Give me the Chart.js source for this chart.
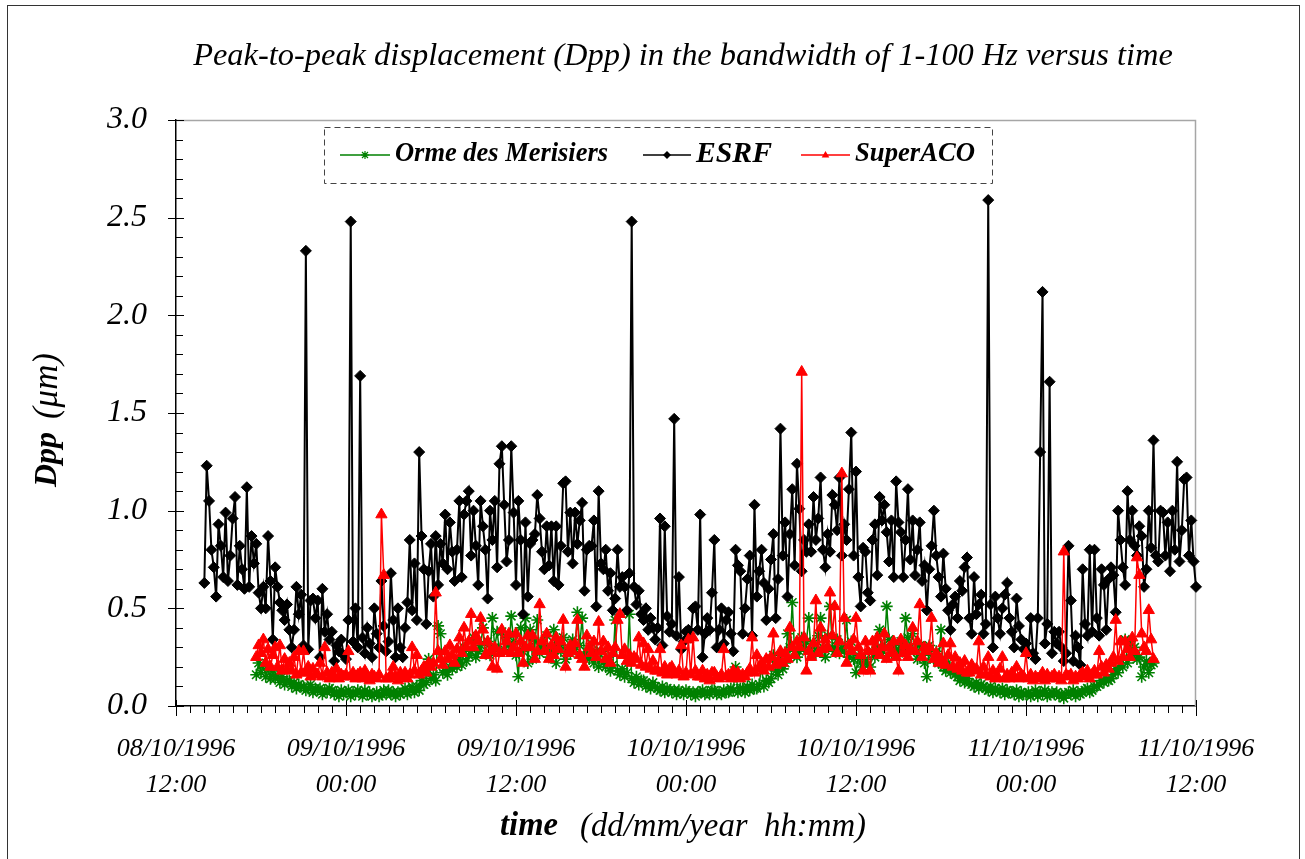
<!DOCTYPE html>
<html><head><meta charset="utf-8">
<script src="https://cdn.jsdelivr.net/npm/chart.js@4.4.1/dist/chart.umd.min.js"></script>
<style>html,body{margin:0;padding:0;background:#fff;}canvas{display:block;}</style>
</head><body>
<canvas id="c" width="1305" height="859"></canvas>
<script>
// ---- tick labels / names ----
const xTickLabels = [['08/10/1996','12:00'],['09/10/1996','00:00'],['09/10/1996','12:00'],['10/10/1996','00:00'],['10/10/1996','12:00'],['11/10/1996','00:00'],['11/10/1996','12:00']];
const yTickLabels = ['0.0','0.5','1.0','1.5','2.0','2.5','3.0'];
const seriesNames = ['Orme des Merisiers','ESRF','SuperACO'];
const chartTitle = 'Peak-to-peak displacement (Dpp) in the bandwidth of 1-100 Hz versus time';

// ---- ESRF: one sample every 10 min, x in hours after 08/10/1996 12:00 ----
const esrfStartHour = 2;
const esrfStepHour = 1 / 6;
const esrf = [
0.63,1.23,1.05,0.80,0.71,0.56, 0.93,0.82,0.66,0.99,0.64,0.77, 0.96,1.07,0.62,0.82,0.70,0.60,
1.12,0.61,0.87,0.73,0.83,0.58, 0.50,0.61,0.50,0.87,0.64,0.34, 0.71,0.61,0.53,0.49,0.44,0.52,
0.39,0.30,0.39,0.61,0.47,0.57, 0.31,2.33,0.29,0.54,0.55,0.45, 0.54,0.25,0.60,0.38,0.47,0.34,
0.38,0.23,0.31,0.28,0.34,0.26, 0.24,0.44,2.48,0.33,0.50,0.30, 1.69,0.35,0.27,0.40,0.32,0.25,
0.50,0.37,0.30,0.64,0.41,0.28, 0.33,0.68,0.44,0.25,0.50,0.30, 0.25,0.40,0.53,0.85,0.49,0.73,
0.44,1.30,0.87,0.70,0.42,0.69, 0.83,0.56,0.87,0.62,0.83,0.73, 0.98,0.70,0.94,0.79,0.64,0.80,
1.05,0.66,0.98,1.05,1.10,0.77, 1.00,0.82,0.62,1.05,0.92,0.80, 0.55,1.00,0.85,1.05,0.71,1.24,
1.33,1.03,0.74,0.85,1.33,0.99, 0.62,1.05,0.85,0.47,0.94,0.56, 0.83,0.85,0.88,1.08,0.96,0.79,
0.70,0.92,0.72,0.92,0.64,0.92, 0.62,0.82,1.14,1.15,0.79,0.99, 0.73,0.99,0.83,0.95,1.04,0.59,
0.80,0.82,0.82,0.95,0.51,1.10, 0.73,0.70,0.80,0.59,0.68,0.49, 0.55,0.80,0.61,0.66,0.61,0.49,
0.68,2.48,0.61,0.52,0.59,0.47, 0.44,0.50,0.39,0.45,0.40,0.34, 0.40,0.96,0.31,0.92,0.46,0.38,
0.42,1.47,0.36,0.66,0.29,0.33, 0.38,0.39,0.35,0.50,0.51,0.39, 0.98,0.25,0.37,0.45,0.39,0.58,
0.85,0.30,0.39,0.50,0.32,0.44, 0.48,0.37,0.28,0.80,0.72,0.69, 0.37,0.50,0.65,0.77,0.36,1.03,
0.56,0.69,0.80,0.63,0.44,0.60, 0.75,0.88,0.45,0.65,1.42,0.77, 0.94,0.56,0.88,1.11,0.72,1.24,
1.01,0.69,0.85,0.79,0.93,0.79, 1.07,0.85,0.96,1.17,0.80,0.71, 0.88,0.79,1.08,1.03,0.90,1.17,
0.77,0.93,0.85,1.11,1.40,0.77, 1.20,0.66,0.51,0.81,0.79,0.58, 0.54,0.85,0.93,0.67,1.07,0.95,
1.03,0.89,0.74,0.95,0.66,1.15, 0.94,0.89,0.66,0.85,1.11,0.75, 0.95,0.67,0.80,0.94,0.64,0.72,
0.49,0.70,0.82,1.00,0.77,0.66, 0.56,0.78,0.60,0.49,0.39,0.52, 0.56,0.45,0.64,0.59,0.71,0.76,
0.45,0.37,0.66,0.47,0.52,0.57, 0.37,0.42,2.59,0.52,0.30,0.56, 0.45,0.37,0.50,0.57,0.63,0.45,
0.38,0.30,0.55,0.41,0.34,0.29, 0.32,0.27,0.45,0.27,0.24,0.45, 1.30,2.12,0.32,0.42,1.66,0.27,
0.38,0.32,0.38,0.30,0.23,0.27, 0.82,0.54,0.23,0.36,0.30,0.21, 0.70,0.42,0.36,0.80,0.38,0.80,
0.45,0.36,0.70,0.62,0.39,0.65, 0.71,0.67,0.48,1.00,0.85,0.71, 0.62,1.10,0.85,1.00,0.82,0.77,
0.92,0.87,0.61,0.70,1.00,0.81, 1.36,0.77,0.74,1.00,0.99,0.77, 0.94,0.69,1.00,0.80,1.25,0.74,
0.90,1.16,1.17,0.77,0.95,0.74, 0.61,0.90,0.50
];

// ---- Orme des Merisiers & SuperACO: one sample every 10 min ----
const siteStartHour = 5 + 4 / 6;
const siteStepHour = 1 / 6;
const orme = [
0.16,0.22,
0.17,0.21,0.15,0.19,0.14,0.18, 0.14,0.16,0.12,0.15,0.11,0.13, 0.13,0.10,0.12,0.09,0.11,0.10,
0.10,0.08,0.09,0.11,0.07,0.09, 0.08,0.09,0.06,0.08,0.07,0.09, 0.08,0.06,0.07,0.05,0.08,0.06,
0.07,0.08,0.05,0.07,0.06,0.08, 0.07,0.05,0.08,0.06,0.07,0.05, 0.06,0.07,0.05,0.06,0.08,0.06,
0.08,0.06,0.07,0.05,0.07,0.06, 0.07,0.09,0.06,0.08,0.10,0.07, 0.10,0.08,0.13,0.11,0.12,0.24,
0.14,0.16,0.13,0.41,0.37,0.17, 0.18,0.16,0.20,0.19,0.22,0.20, 0.24,0.21,0.30,0.23,0.26,0.28,
0.35,0.25,0.28,0.31,0.40,0.27, 0.33,0.26,0.45,0.30,0.38,0.28, 0.38,0.29,0.35,0.31,0.46,0.33,
0.26,0.15,0.40,0.28,0.45,0.22, 0.39,0.24,0.33,0.44,0.27,0.30, 0.30,0.36,0.25,0.28,0.39,0.22,
0.31,0.28,0.35,0.24,0.30,0.27, 0.34,0.29,0.48,0.31,0.45,0.26, 0.26,0.24,0.32,0.22,0.28,0.20,
0.28,0.22,0.20,0.25,0.18,0.21, 0.44,0.18,0.16,0.19,0.15,0.17, 0.47,0.14,0.12,0.15,0.11,0.13,
0.13,0.10,0.11,0.09,0.12,0.10, 0.09,0.08,0.10,0.07,0.09,0.08, 0.07,0.08,0.06,0.08,0.07,0.06,
0.08,0.07,0.06,0.07,0.05,0.07, 0.07,0.08,0.06,0.07,0.06,0.08, 0.08,0.06,0.07,0.06,0.08,0.07,
0.07,0.09,0.08,0.20,0.07,0.09, 0.09,0.07,0.10,0.08,0.11,0.09, 0.09,0.11,0.20,0.10,0.13,0.12,
0.14,0.26,0.18,0.16,0.22,0.19, 0.22,0.37,0.30,0.53,0.28,0.25, 0.28,0.35,0.30,0.33,0.45,0.27,
0.32,0.27,0.36,0.45,0.30,0.25, 0.36,0.51,0.30,0.28,0.34,0.27, 0.30,0.28,0.44,0.25,0.33,0.24,
0.17,0.26,0.22,0.20,0.24,0.21, 0.20,0.28,0.25,0.30,0.39,0.27, 0.30,0.51,0.34,0.27,0.31,0.29,
0.27,0.33,0.29,0.45,0.35,0.30, 0.37,0.29,0.24,0.31,0.26,0.22, 0.15,0.31,0.26,0.24,0.28,0.22,
0.39,0.20,0.18,0.22,0.17,0.19, 0.16,0.15,0.13,0.16,0.12,0.14, 0.12,0.11,0.10,0.12,0.09,0.11,
0.10,0.09,0.08,0.10,0.07,0.09, 0.08,0.07,0.09,0.06,0.08,0.07, 0.07,0.06,0.08,0.05,0.07,0.06,
0.06,0.07,0.05,0.06,0.08,0.05, 0.07,0.06,0.08,0.05,0.06,0.07, 0.06,0.07,0.05,0.06,0.04,0.06,
0.07,0.06,0.08,0.05,0.07,0.06, 0.07,0.08,0.09,0.07,0.08,0.10, 0.10,0.11,0.13,0.12,0.14,0.13,
0.14,0.16,0.19,0.17,0.22,0.20, 0.34,0.22,0.33,0.26,0.30,0.24, 0.25,0.15,0.20,0.23,0.17,0.21,
0.22
];
const superaco = [
0.25,0.31,
0.27,0.34,0.22,0.29,0.20,0.26, 0.30,0.20,0.31,0.18,0.24,0.19, 0.22,0.18,0.25,0.16,0.28,0.17,
0.28,0.17,0.20,0.15,0.19,0.16, 0.16,0.22,0.15,0.30,0.17,0.14, 0.17,0.15,0.19,0.14,0.16,0.15,
0.16,0.28,0.15,0.17,0.14,0.16, 0.17,0.14,0.18,0.15,0.13,0.16, 0.15,0.14,0.16,0.98,0.67,0.14,
0.14,0.16,0.20,0.15,0.13,0.17, 0.15,0.17,0.14,0.16,0.30,0.18, 0.26,0.16,0.18,0.20,0.17,0.22,
0.20,0.22,0.58,0.28,0.24,0.21, 0.28,0.24,0.31,0.26,0.22,0.29, 0.35,0.27,0.40,0.30,0.33,0.47,
0.30,0.36,0.33,0.45,0.39,0.26, 0.33,0.28,0.20,0.30,0.19,0.27, 0.39,0.28,0.33,0.37,0.27,0.30,
0.37,0.27,0.33,0.22,0.30,0.36, 0.30,0.36,0.24,0.28,0.52,0.33, 0.28,0.37,0.24,0.31,0.26,0.35,
0.29,0.33,0.44,0.20,0.27,0.31, 0.28,0.32,0.44,0.26,0.24,0.20, 0.36,0.30,0.27,0.33,0.25,0.43,
0.28,0.33,0.24,0.30,0.22,0.27, 0.30,0.44,0.47,0.26,0.29,0.23, 0.26,0.22,0.25,0.24,0.35,0.21,
0.32,0.20,0.29,0.19,0.23,0.18, 0.18,0.29,0.17,0.20,0.16,0.19, 0.20,0.17,0.16,0.18,0.31,0.15,
0.17,0.34,0.16,0.35,0.18,0.15, 0.15,0.18,0.14,0.16,0.13,0.17, 0.17,0.15,0.14,0.16,0.29,0.15,
0.16,0.14,0.18,0.15,0.17,0.14, 0.16,0.15,0.17,0.19,0.35,0.17, 0.26,0.19,0.22,0.18,0.24,0.20,
0.25,0.37,0.21,0.23,0.28,0.22, 0.27,0.24,0.40,0.30,0.26,0.33, 0.30,1.71,0.35,0.18,0.28,0.25,
0.32,0.54,0.27,0.40,0.29,0.34, 0.30,0.58,0.36,0.51,0.27,0.33, 1.19,0.45,0.22,0.31,0.28,0.34,
0.45,0.30,0.26,0.18,0.33,0.28, 0.18,0.33,0.28,0.35,0.26,0.30, 0.37,0.24,0.30,0.27,0.33,0.25,
0.18,0.34,0.27,0.31,0.25,0.29, 0.40,0.28,0.33,0.52,0.25,0.30, 0.28,0.30,0.45,0.24,0.27,0.22,
0.24,0.32,0.21,0.26,0.32,0.20, 0.25,0.19,0.22,0.18,0.23,0.17, 0.17,0.21,0.18,0.19,0.33,0.16,
0.20,0.16,0.25,0.15,0.18,0.14, 0.15,0.19,0.25,0.14,0.16,0.14, 0.17,0.15,0.20,0.14,0.16,0.15,
0.27,0.14,0.16,0.13,0.15,0.14, 0.15,0.17,0.13,0.16,0.14,0.15, 0.16,0.14,0.15,0.13,0.79,0.16,
0.15,0.16,0.13,0.15,0.14,0.16, 0.17,0.15,0.18,0.14,0.16,0.18, 0.16,0.28,0.20,0.17,0.21,0.19,
0.22,0.25,0.44,0.23,0.33,0.25, 0.33,0.29,0.25,0.35,0.28,0.76, 0.67,0.37,0.30,0.28,0.49,0.34,
0.24
];

function toPoints(vals, start, step) { return vals.map((v, i) => ({ x: start + i * step, y: v })); }

const serif = "'Liberation Serif','Times New Roman',serif";

// draw text, choosing the font size so that the text spans the given width
function fitText(ctx, text, x, y, style, width, align) {
  ctx.save();
  ctx.font = style + ' 40px ' + serif;
  const w = ctx.measureText(text).width;
  const size = 40 * width / w;
  ctx.font = style + ' ' + size.toFixed(2) + 'px ' + serif;
  ctx.textAlign = align || 'left';
  ctx.textBaseline = 'middle';
  ctx.fillStyle = '#000';
  ctx.fillText(text, x, y);
  ctx.restore();
}

function marker(ctx, style, x, y, r, color) {
  ctx.save();
  ctx.fillStyle = color; ctx.strokeStyle = color; ctx.lineWidth = 1.2;
  ctx.beginPath();
  if (style === 'rectRot') {
    ctx.moveTo(x, y - r); ctx.lineTo(x + r, y); ctx.lineTo(x, y + r); ctx.lineTo(x - r, y); ctx.closePath(); ctx.fill();
  } else if (style === 'triangle') {
    ctx.moveTo(x, y - r); ctx.lineTo(x + r * 0.95, y + r * 0.6); ctx.lineTo(x - r * 0.95, y + r * 0.6); ctx.closePath(); ctx.fill();
  } else {
    ctx.moveTo(x - r, y); ctx.lineTo(x + r, y); ctx.moveTo(x, y - r); ctx.lineTo(x, y + r);
    const d = r * 0.75;
    ctx.moveTo(x - d, y - d); ctx.lineTo(x + d, y + d); ctx.moveTo(x - d, y + d); ctx.lineTo(x + d, y - d);
    ctx.stroke();
  }
  ctx.restore();
}

const decor = {
  id: 'decor',
  beforeDraw(chart) {
    const ctx = chart.ctx;
    ctx.save(); ctx.fillStyle = '#fff'; ctx.fillRect(0, 0, chart.width, chart.height); ctx.restore();
  },
  beforeDatasetsDraw(chart) {
    const ctx = chart.ctx, ca = chart.chartArea, xs = chart.scales.x, ys = chart.scales.y;
    ctx.save();
    ctx.strokeStyle = '#a6a6a6'; ctx.lineWidth = 1.5;
    ctx.beginPath(); ctx.moveTo(ca.left, ca.top + 0.5); ctx.lineTo(ca.right - 0.5, ca.top + 0.5); ctx.lineTo(ca.right - 0.5, ca.bottom); ctx.stroke();
    ctx.strokeStyle = '#000'; ctx.lineWidth = 1;
    ctx.beginPath();
    for (let h = 0; h <= 72; h++) {
      const px = Math.round(xs.getPixelForValue(h)) + 0.5;
      const major = h % 12 === 0;
      ctx.moveTo(px, major ? ca.bottom - 6 : ca.bottom);
      ctx.lineTo(px, ca.bottom + (major ? 10 : 7));
    }
    for (let k = 0; k <= 30; k++) {
      const py = Math.round(ys.getPixelForValue(k / 10)) + 0.5;
      const major = k % 5 === 0;
      ctx.moveTo(major ? ca.left - 8 : ca.left, py);
      ctx.lineTo(ca.left + (major ? 8 : 7), py);
    }
    ctx.stroke();
    ctx.restore();
  },
  afterDraw(chart) {
    const ctx = chart.ctx;
    ctx.save();
    ctx.strokeStyle = '#333'; ctx.lineWidth = 1;
    ctx.strokeRect(7.5, 5.5, 1292, 880);
    ctx.restore();
    fitText(ctx, chartTitle, 683, 56, 'italic', 980, 'center');
    fitText(ctx, 'time', 500, 827, 'italic bold', 58, 'left');
    fitText(ctx, '(dd/mm/year  hh:mm)', 580, 827, 'italic', 286, 'left');
    ctx.save();
    ctx.translate(48, 487); ctx.rotate(-Math.PI / 2);
    fitText(ctx, 'Dpp', 0, 0, 'italic bold', 55, 'left');
    fitText(ctx, '(\u03bcm)', 68, 0, 'italic', 66, 'left');
    ctx.restore();
    ctx.save();
    ctx.fillStyle = '#fff'; ctx.fillRect(325, 128, 667, 55);
    ctx.setLineDash([6, 4]); ctx.strokeStyle = '#444'; ctx.lineWidth = 1;
    ctx.strokeRect(324.5, 127.5, 668, 56);
    ctx.setLineDash([]);
    const ly = 155;
    const items = [
      { x0: 340, x1: 390, tx: 395, tw: 213, color: '#008000', style: 'star' },
      { x0: 643, x1: 691, tx: 696, tw: 76, color: '#000000', style: 'rectRot' },
      { x0: 801, x1: 850, tx: 855, tw: 120, color: '#ff0000', style: 'triangle' }
    ];
    items.forEach((it, i) => {
      ctx.strokeStyle = it.color; ctx.lineWidth = 1.5;
      ctx.beginPath(); ctx.moveTo(it.x0, ly); ctx.lineTo(it.x1, ly); ctx.stroke();
      marker(ctx, it.style, (it.x0 + it.x1) / 2, ly, 4, it.color);
      fitText(ctx, seriesNames[i], it.tx, ly - 1, 'italic bold', it.tw, 'left');
    });
    ctx.restore();
  }
};

const clipBox = { left: 6, top: 6, right: 12, bottom: 6 };

new Chart(document.getElementById('c'), {
  type: 'line',
  data: {
    datasets: [
      { label: seriesNames[0], data: toPoints(orme, siteStartHour, siteStepHour), borderColor: '#008000', backgroundColor: '#008000',
        borderWidth: 1.5, pointStyle: 'star', pointRadius: 6, pointBorderWidth: 1.6, pointBorderColor: '#008000', order: 3, clip: clipBox },
      { label: seriesNames[1], data: toPoints(esrf, esrfStartHour, esrfStepHour), borderColor: '#000000', backgroundColor: '#000000',
        borderWidth: 2, pointStyle: 'rectRot', pointRadius: 5.5, pointBorderWidth: 1, order: 2, clip: clipBox },
      { label: seriesNames[2], data: toPoints(superaco, siteStartHour, siteStepHour), borderColor: '#ff0000', backgroundColor: '#ff0000',
        borderWidth: 1.5, pointStyle: 'triangle', pointRadius: 6.5, pointBorderWidth: 1, order: 1, clip: clipBox }
    ]
  },
  options: {
    responsive: false, animation: false, devicePixelRatio: 1,
    layout: { padding: { left: 0, top: 120, right: 109, bottom: 0 } },
    elements: { line: { tension: 0 } },
    plugins: { legend: { display: false }, title: { display: false }, tooltip: { enabled: false } },
    scales: {
      x: {
        type: 'linear', min: 0, max: 72,
        grid: { display: false, drawTicks: false },
        border: { display: true, color: '#000', width: 1.5 },
        ticks: {
          stepSize: 12, autoSkip: false, maxRotation: 0, padding: 25, color: '#000',
          font: { family: serif, style: 'italic', size: 26, lineHeight: 1.385 },
          callback: (v) => (v % 12 === 0 ? xTickLabels[Math.round(v / 12)] : '')
        },
        afterFit: (s) => { s.height = 153; }
      },
      y: {
        min: 0, max: 3,
        grid: { display: false, drawTicks: false },
        border: { display: true, color: '#000', width: 1.5 },
        ticks: {
          stepSize: 0.5, padding: 29, color: '#000',
          font: { family: serif, style: 'italic', size: 32 },
          callback: (v) => yTickLabels[Math.round(v * 2)]
        },
        afterFit: (s) => { s.width = 176; }
      }
    }
  },
  plugins: [decor]
});
</script>
</body></html>
